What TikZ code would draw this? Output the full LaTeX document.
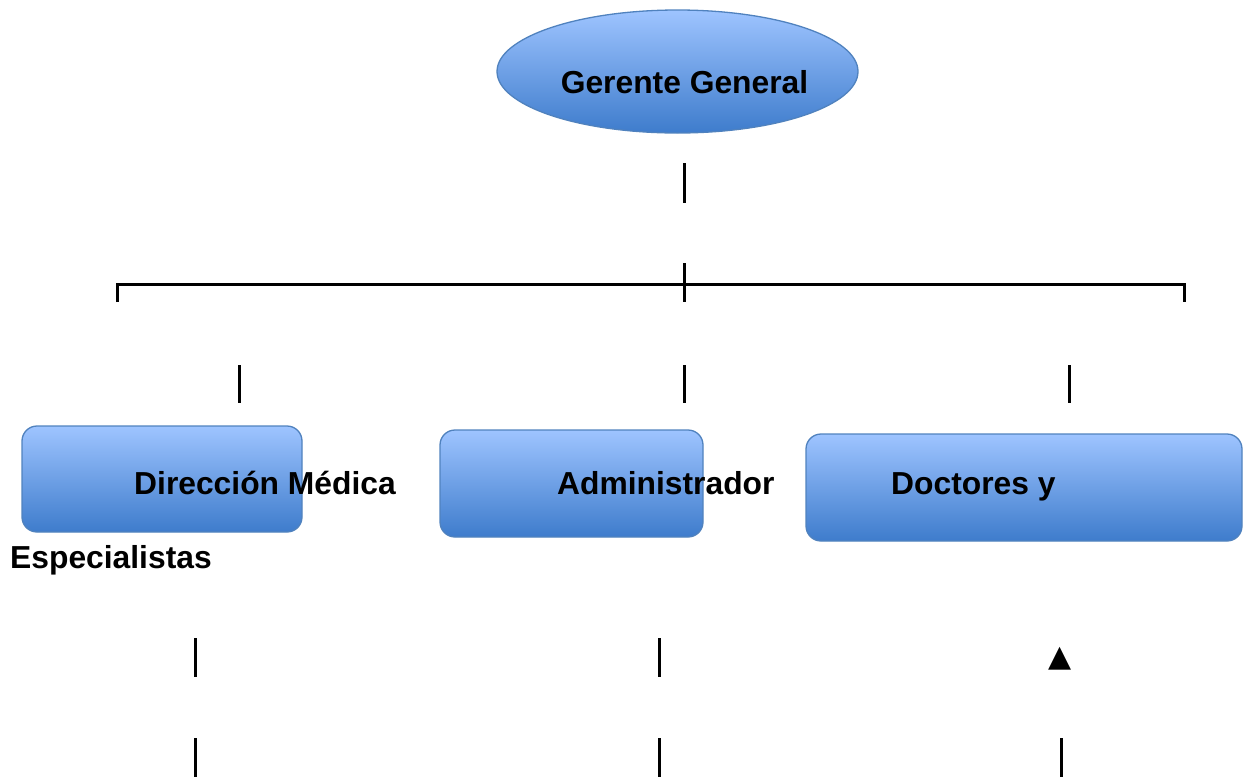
\documentclass[tikz,border=0pt]{standalone}
\usepackage{fontspec}
\setmainfont{Liberation Sans}
\newfontfamily\symfont{DejaVu Sans}
\usetikzlibrary{shapes.geometric}

\definecolor{boxtop}{RGB}{158,196,255}
\definecolor{boxbot}{RGB}{62,124,204}
\definecolor{boxline}{RGB}{80,130,190}

\tikzset{
  oval/.style={ellipse, draw=boxline, line width=1.3pt, top color=boxtop, bottom color=boxbot, inner sep=0pt},
  bluebox/.style={draw=boxline, line width=1.3pt, rounded corners=15pt, top color=boxtop, bottom color=boxbot, inner sep=0pt},
  lbl/.style={font=\fontsize{31.8}{36}\selectfont\bfseries, inner sep=0pt},
  bar/.style={line width=3pt},
}

\begin{document}
\begin{tikzpicture}[x=1pt,y=-1pt]
\useasboundingbox (0,0) rectangle (1247,777);
% top
\node[oval, minimum width=361pt, minimum height=123pt] (gg) at (677.5,71.5) {};
\node[lbl, anchor=base] (ggtxt) at (684.5,93) {Gerente General};
\draw[bar] (684,163) -- (684,203);
% bracket
\draw[bar] (117,302) -- (117,284) -- (1184,284) -- (1184,302);
\draw[bar] (684,263) -- (684,302);
\draw[bar] (239,365) -- (239,403);
\draw[bar] (684,365) -- (684,403);
\draw[bar] (1069,365) -- (1069,403);
% boxes
\node[bluebox, minimum width=280pt, minimum height=106pt] (dm) at (162,479) {};
\node[bluebox, minimum width=263pt, minimum height=107pt] (adm) at (571.5,483.5) {};
\node[bluebox, minimum width=436pt, minimum height=107pt] (doc) at (1024,487.5) {};
\node[lbl, anchor=base west] (dmtxt) at (134,494) {Dirección Médica};
\node[lbl, anchor=base west] (admtxt) at (557,494) {Administrador};
\node[lbl, anchor=base west] (doctxt) at (891,494) {Doctores y};
\node[lbl, anchor=base west] (esp) at (10,568) {Especialistas};
% lower bars
\draw[bar] (195,638) -- (195,677);
\draw[bar] (659,638) -- (659,677);
\node[inner sep=0pt, font=\symfont\fontsize{30}{34}\selectfont] (tri) at (1060,659) {▲};
\draw[bar] (195,738) -- (195,777);
\draw[bar] (659,738) -- (659,777);
\draw[bar] (1061,738) -- (1061,777);
\end{tikzpicture}
\end{document}
